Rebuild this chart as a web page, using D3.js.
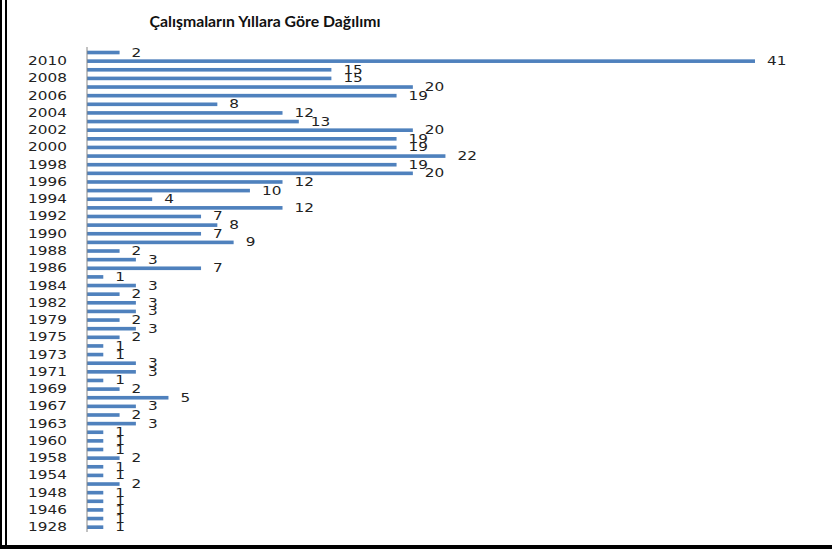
<!DOCTYPE html>
<html>
<head>
<meta charset="utf-8">
<script src="https://cdn.jsdelivr.net/npm/d3@7"></script>
<style>
    body { margin: 0; background: #fff; }
    #chart { width: 832px; height: 549px; }
</style>
</head>
<body>
<div id="chart"></div>
<script>
// years from top to bottom, only every second one is printed on the axis
const years = [
    "2011", "2010", "2009", "2008", "2007", "2006", "2005", "2004", "2003", "2002",
    "2001", "2000", "1999", "1998", "1997", "1996", "1995", "1994", "1993", "1992",
    "1991", "1990", "1989", "1988", "1987", "1986", "1985", "1984", "1983", "1982",
    "1980", "1979", "1977", "1975", "1974", "1973", "1972", "1971", "1970", "1969",
    "1968", "1967", "1965", "1963", "1962", "1960", "1959", "1958", "1956", "1954",
    "1950", "1948", "1947", "1946", "1940", "1928"
];
const counts = [
    2, 41, 15, 15, 20, 19, 8, 12, 13, 20,
    19, 19, 22, 19, 20, 12, 10, 4, 12, 7,
    8, 7, 9, 2, 3, 7, 1, 3, 2, 3,
    3, 2, 3, 2, 1, 1, 3, 3, 1, 2,
    5, 3, 2, 3, 1, 1, 1, 2, 1, 1,
    2, 1, 1, 1, 1, 1
];
const shownYears = years.filter((d, i) => i % 2 === 1);
const title = "Çalışmaların Yıllara Göre Dağılımı";

const W = 832, H = 549;
const svg = d3.select("#chart").append("svg")
    .attr("width", W)
    .attr("height", H);

// frame of the pasted picture
svg.append("line").attr("x1", 1).attr("x2", 1).attr("y1", 0).attr("y2", H)
    .attr("stroke", "#000").attr("stroke-width", 2);
svg.append("line").attr("x1", 6).attr("x2", 6).attr("y1", 0).attr("y2", H)
    .attr("stroke", "#000").attr("stroke-width", 2);
svg.append("line").attr("x1", 0).attr("x2", W).attr("y1", 547).attr("y2", 547)
    .attr("stroke", "#000").attr("stroke-width", 4);

const data = years.map((y, i) => ({ year: y, value: counts[i] }));

const x = d3.scaleLinear()
    .domain([0, 41])
    .range([87, 755]);

const y = d3.scaleBand()
    .domain(years)
    .range([48.2, 531.5])
    .paddingInner(0.58)
    .paddingOuter(0.29);

svg.append("text")
    .attr("x", 265)
    .attr("y", 27)
    .attr("text-anchor", "middle")
    .attr("textLength", 231)
    .attr("lengthAdjust", "spacingAndGlyphs")
    .style("font-family", "Lato, sans-serif")
    .style("font-weight", "bold")
    .style("font-size", "16px")
    .style("fill", "#111")
    .text(title);

// bars
svg.selectAll("rect.bar")
    .data(data)
    .enter()
    .append("rect")
    .attr("class", "bar")
    .attr("x", x(0))
    .attr("y", d => y(d.year))
    .attr("width", d => x(d.value) - x(0))
    .attr("height", y.bandwidth())
    .attr("fill", "#4f81bd");

// axis line
svg.append("line")
    .attr("x1", x(0)).attr("x2", x(0))
    .attr("y1", 47).attr("y2", 532)
    .attr("stroke", "#868686")
    .attr("stroke-width", 1);

// year labels (stretched like the original picture)
const mid = d => y(d) + y.bandwidth() / 2;
svg.selectAll("text.year")
    .data(shownYears)
    .enter()
    .append("text")
    .attr("class", "year")
    .attr("transform", d => `translate(67,${mid(d) + 4}) scale(1.33,1)`)
    .attr("text-anchor", "end")
    .style("font-family", "'DejaVu Sans', sans-serif")
    .style("font-size", "11.5px")
    .style("fill", "#222")
    .text(d => d);

// value labels
svg.selectAll("text.val")
    .data(data)
    .enter()
    .append("text")
    .attr("class", "val")
    .attr("transform", d => `translate(${x(d.value) + 12},${mid(d.year) + 4}) scale(1.33,1)`)
    .style("font-family", "'DejaVu Sans', sans-serif")
    .style("font-size", "11.5px")
    .style("fill", "#222")
    .text(d => d.value);
</script>
</body>
</html>
